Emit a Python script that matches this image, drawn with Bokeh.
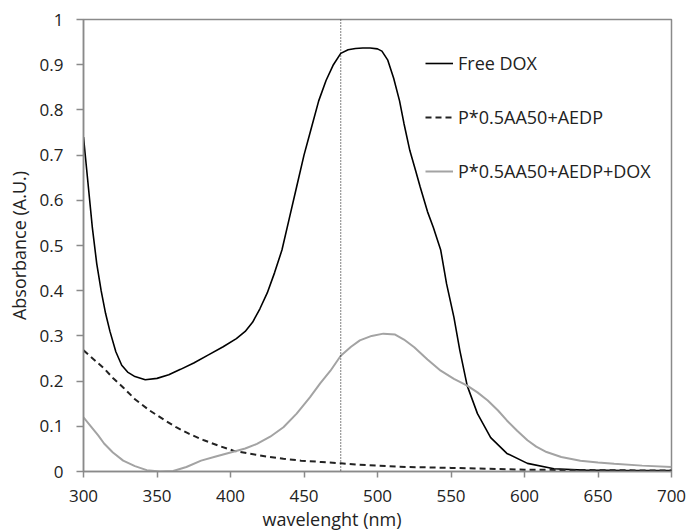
from bokeh.plotting import figure
from bokeh.models import Range1d, FixedTicker, Span, Legend, LegendItem, Title
from bokeh.embed import file_html
from bokeh.resources import INLINE

# ---------------- data ----------------
free_dox_x = [300, 303, 306, 309, 312, 315, 318, 322, 326, 330, 335, 342, 350, 358, 366,
              375, 385, 395, 404, 410, 415, 420, 425, 430, 435, 440, 445, 450, 455, 460,
              465, 470, 475, 480, 485, 490, 495, 500, 503, 507, 511, 515, 518, 522, 526,
              529, 534, 538, 543, 547, 552, 556, 561, 568, 577, 588, 602, 620, 640, 670, 700]
free_dox_y = [0.74, 0.64, 0.54, 0.46, 0.40, 0.35, 0.31, 0.265, 0.235, 0.22, 0.21, 0.203,
              0.206, 0.214, 0.226, 0.24, 0.258, 0.276, 0.294, 0.31, 0.33, 0.36, 0.395,
              0.44, 0.49, 0.56, 0.63, 0.70, 0.76, 0.82, 0.865, 0.90, 0.925, 0.933, 0.936,
              0.937, 0.937, 0.935, 0.93, 0.91, 0.87, 0.82, 0.77, 0.71, 0.665, 0.63, 0.575,
              0.54, 0.49, 0.415, 0.341, 0.268, 0.19, 0.128, 0.075, 0.04, 0.018, 0.006,
              0.003, 0.002, 0.002]

polymer_x = [300, 307, 314, 320, 327, 335, 345, 355, 363, 372, 382, 392, 402, 412, 425,
             436, 448, 462, 475, 487, 499, 520, 550, 575, 600, 650, 700]
polymer_y = [0.268, 0.248, 0.228, 0.207, 0.186, 0.16, 0.135, 0.114, 0.098, 0.083, 0.069,
             0.057, 0.046, 0.04, 0.033, 0.028, 0.024, 0.021, 0.018, 0.015, 0.013, 0.01,
             0.008, 0.006, 0.004, 0.003, 0.002]

loaded_x = [300, 305, 310, 314, 320, 327, 335, 343, 352, 361, 370, 380, 390, 400, 410,
            418, 427, 436, 445, 454, 461, 468, 475, 482, 488, 496, 504, 512, 518, 525,
            534, 543, 552, 561, 568, 575, 582, 588, 595, 602, 608, 615, 625, 638, 650,
            661, 680, 700]
loaded_y = [0.12, 0.10, 0.08, 0.062, 0.042, 0.024, 0.012, 0.003, 0.0, 0.001, 0.01, 0.024,
            0.033, 0.042, 0.051, 0.061, 0.077, 0.098, 0.128, 0.164, 0.195, 0.223, 0.256,
            0.276, 0.29, 0.30, 0.305, 0.303, 0.292, 0.275, 0.248, 0.223, 0.205, 0.19,
            0.175, 0.157, 0.135, 0.113, 0.09, 0.069, 0.055, 0.043, 0.032, 0.024, 0.02,
            0.017, 0.013, 0.01]

series_names = ["Free DOX", "P*0.5AA50+AEDP", "P*0.5AA50+AEDP+DOX"]
x_ticks = [300, 350, 400, 450, 500, 550, 600, 650, 700]
y_ticks = [0.0, 0.1, 0.2, 0.3, 0.4, 0.5, 0.6, 0.7, 0.8, 0.9, 1.0]
y_tick_labels = ["0", "0.1", "0.2", "0.3", "0.4", "0.5", "0.6", "0.7", "0.8", "0.9", "1"]
marker_wavelength = 475
x_title = "wavelenght (nm)"
y_title = "Absorbance (A.U.)"

FONT = "Open Sans"
TXT = "#222222"
AX = "#8a8a8a"

p = figure(width=688, height=530, output_backend="svg", toolbar_location=None,
           x_range=Range1d(300, 700), y_range=Range1d(0, 1),
           min_border_left=83, min_border_right=17, min_border_top=19, min_border_bottom=59)
p.xgrid.visible = False
p.ygrid.visible = False
p.outline_line_color = AX
p.outline_line_width = 1.5
p.background_fill_color = "white"
p.border_fill_color = "white"

for ax in (p.xaxis[0], p.yaxis[0]):
    ax.axis_line_color = AX
    ax.axis_line_width = 1.5
    ax.major_tick_line_color = AX
    ax.major_tick_line_width = 1.5
    ax.major_tick_in = 0
    ax.minor_tick_line_color = None
    ax.major_label_text_font = FONT
    ax.major_label_text_font_size = "17px"
    ax.major_label_text_color = TXT

p.xaxis.ticker = FixedTicker(ticks=x_ticks)
p.xaxis.major_tick_out = 6
p.xaxis.major_label_standoff = 12
p.yaxis.ticker = FixedTicker(ticks=y_ticks)
p.yaxis.major_label_overrides = dict(zip(y_ticks, y_tick_labels))
p.yaxis.major_tick_out = 7
p.yaxis.major_label_standoff = 13
p.yaxis.axis_label = y_title
p.yaxis.axis_label_standoff = 6
p.yaxis.axis_label_text_font = FONT
p.yaxis.axis_label_text_font_size = "18px"
p.yaxis.axis_label_text_font_style = "normal"
p.yaxis.axis_label_text_color = TXT

p.add_layout(Title(text=x_title, align="left", offset=179, standoff=0,
                   text_font=FONT, text_font_size="18px", text_font_style="normal",
                   text_color=TXT), "below")

p.add_layout(Span(location=marker_wavelength, dimension="height", line_color="black",
                  line_width=1, line_dash="1 2"))

r1 = p.line(free_dox_x, free_dox_y, line_color="black", line_width=1.6)
r2 = p.line(polymer_x, polymer_y, line_color="#222222", line_width=2, line_dash="6 4")
r3 = p.line(loaded_x, loaded_y, line_color="#a3a3a3", line_width=2)

legend = Legend(items=[LegendItem(label=series_names[0], renderers=[r1]),
                       LegendItem(label=series_names[1], renderers=[r2]),
                       LegendItem(label=series_names[2], renderers=[r3])],
                location=(342, 287), padding=0, margin=0, spacing=28,
                glyph_width=28, glyph_height=26, label_height=26, label_standoff=5,
                label_text_font=FONT, label_text_font_size="18px",
                label_text_color=TXT, border_line_color=None,
                background_fill_alpha=0)
p.add_layout(legend)

open("out.html", "w").write(file_html(p, INLINE))
